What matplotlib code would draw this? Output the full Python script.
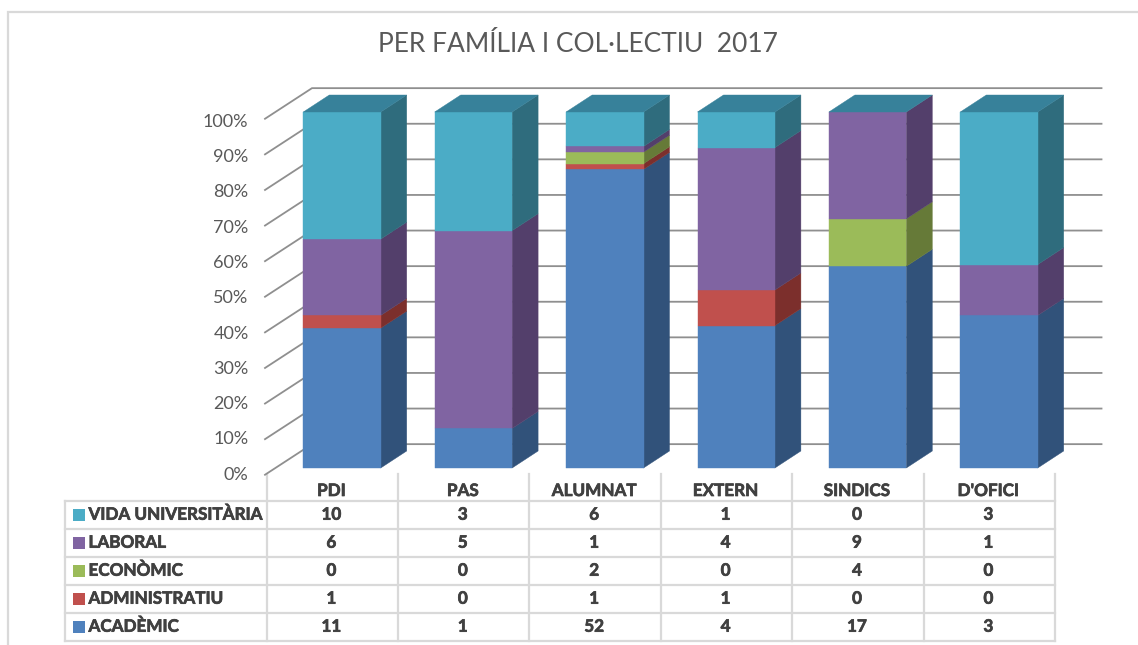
import matplotlib
matplotlib.use("Agg")
import matplotlib.pyplot as plt
import matplotlib.patheffects as pe
import numpy as np
from matplotlib.patches import Polygon, Rectangle

# ---------- data ----------
title = "PER FAMÍLIA I COL·LECTIU  2017"
categories = ["PDI", "PAS", "ALUMNAT", "EXTERN", "SINDICS", "D'OFICI"]
academic = [11, 1, 52, 4, 17, 3]
administratiu = [1, 0, 1, 1, 0, 0]
economic = [0, 0, 2, 0, 4, 0]
laboral = [6, 5, 1, 4, 9, 1]
vida = [10, 3, 6, 1, 0, 3]
series_names = ["ACADÈMIC", "ADMINISTRATIU", "ECONÒMIC", "LABORAL", "VIDA UNIVERSITÀRIA"]
series_values = [academic, administratiu, economic, laboral, vida]
pct_ticks = list(range(0, 101, 10))

# ---------- style ----------
front = ["#4f81bd", "#c0504d", "#9bbb59", "#8064a2", "#4bacc6"]
side = ["#31527a", "#7c2f2c", "#667a38", "#533f6b", "#2f6c7d"]
top_col = "#37819a"
GRID = "#8f8f8f"
TBL = "#d9d9d9"
TXT = "#404040"
W, H = 1138, 645
plt.rcParams["font.family"] = ["Lato", "DejaVu Sans"]
heavy = [pe.withStroke(linewidth=0.5, foreground=TXT)]

fig = plt.figure(figsize=(W / 100, H / 100), dpi=100, facecolor="white")
ov = fig.add_axes([0, 0, 1, 1], zorder=0)
ov.set_xlim(0, W)
ov.set_ylim(H, 0)
ov.axis("off")

# chart axes: x in category units, y in percent
CX0, STEP = 342.0, 131.4
Y0, PXPCT = 468.0, 3.56
L, R, T, B = 265.0, 1102.0, 80.0, 480.0
ax = fig.add_axes([L / W, 1 - B / H, (R - L) / W, (B - T) / H], zorder=1)
ax.set_xlim((L - CX0) / STEP, (R - CX0) / STEP)
ax.set_ylim((Y0 - B) / PXPCT, (Y0 - T) / PXPCT)
ax.axis("off")
ax.patch.set_alpha(0)

hw = 38.7 / STEP
dx = 26.0 / STEP
dy = 17.0 / PXPCT
wall_l = (L - CX0) / STEP
wall_b = (312 - CX0) / STEP
wall_r = (1101.5 - CX0) / STEP
wall_up = 6.7
wall_dn = -1.9

for p in pct_ticks:
    ax.plot([wall_l, wall_b, wall_r], [p + wall_dn, p + wall_up, p + wall_up],
            color=GRID, lw=1.3, zorder=1, solid_joinstyle="miter", clip_on=False)
    ax.text(wall_l - 16.5 / STEP, p * 0.992 - 1.9, f"{p}%", ha="right", va="center",
            fontsize=13, color="#595959")

vals = np.array(series_values, dtype=float)
pcts = vals / vals.sum(axis=0) * 100
cum = np.vstack([np.zeros(len(categories)), np.cumsum(pcts, axis=0)])
for i in range(len(categories)):
    for s in range(len(series_names)):
        y0, y1 = cum[s, i], cum[s + 1, i]
        if y1 - y0 <= 0:
            continue
        ax.add_patch(Polygon([(i + hw, y0), (i + hw + dx, y0 + dy), (i + hw + dx, y1 + dy), (i + hw, y1)],
                             closed=True, fc=side[s], ec=side[s], lw=0.3, zorder=2))
        ax.add_patch(Rectangle((i - hw, y0), 2 * hw, y1 - y0, fc=front[s], ec=front[s], lw=0.3, zorder=3))
    ax.add_patch(Polygon([(i - hw, 100), (i - hw + dx, 100 + dy), (i + hw + dx, 100 + dy), (i + hw, 100)],
                         closed=True, fc=top_col, ec=top_col, lw=0.3, zorder=3))

# outer frame of the pasted chart
ov.plot([8, 8, W], [H, 12, 12], color=TBL, lw=1.6, solid_joinstyle="miter")

# data table
col_x = [266.7 + STEP * k for k in range(len(categories) + 1)]
row_y = [500.7 + 28 * k for k in range(len(series_names) + 1)]
HEAD_T = 474
LEFT = 65
for k, x in enumerate(col_x):
    ov.plot([x, x], [HEAD_T, row_y[-1]], color=TBL, lw=1.6)
for y in row_y:
    ov.plot([LEFT, col_x[-1]], [y, y], color=TBL, lw=1.6)
ov.plot([LEFT, LEFT], [row_y[0], row_y[-1]], color=TBL, lw=1.6)

FS = 12.3
for k, c in enumerate(categories):
    cx = (col_x[k] + col_x[k + 1]) / 2 - 1
    ov.text(cx, 491, c, ha="center", va="center", fontsize=FS, fontweight="bold",
            color=TXT, path_effects=heavy)
for r, s in enumerate(reversed(range(len(series_names)))):
    cy = (row_y[r] + row_y[r + 1]) / 2
    ov.add_patch(Rectangle((73, cy - 6), 12, 12, fc=front[s], ec="none"))
    ov.text(88.5, cy, series_names[s], ha="left", va="center", fontsize=FS, fontweight="bold",
            color=TXT, path_effects=heavy)
    for k in range(len(categories)):
        cx = (col_x[k] + col_x[k + 1]) / 2 - 1
        ov.text(cx, cy, str(series_values[s][k]), ha="center", va="center",
                fontsize=FS, fontweight="bold", color=TXT, path_effects=heavy)

ov.text(577.5, 44, title, ha="center", va="center", fontsize=19, color="#595959")

fig.savefig("out.png", dpi=100)
